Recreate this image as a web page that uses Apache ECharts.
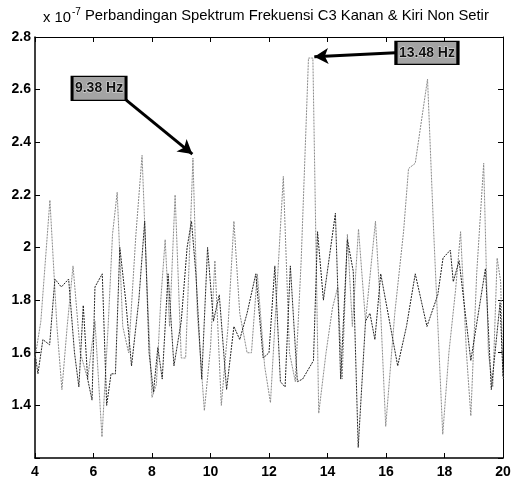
<!DOCTYPE html>
<html>
<head>
<meta charset="utf-8">
<script src="https://cdn.jsdelivr.net/npm/echarts@6/dist/echarts.min.js"></script>
<style>
  html, body { margin: 0; padding: 0; background: #fff; }
  #chart { width: 515px; height: 481px; }
</style>
</head>
<body>
<div id="chart"></div>
<script>
// frekuensi (Hz) dan magnitudo (x 1e-7)
const kiriFreq = [4.0,4.2,4.51,4.75,4.92,5.1,5.3,5.55,5.8,6.05,6.29,6.5,6.65,6.81,7.0,7.2,7.45,7.66,7.85,8.0,8.15,8.3,8.45,8.6,8.79,9.0,9.15,9.4,9.55,9.79,10.0,10.15,10.37,10.6,10.8,11.0,11.25,11.4,11.6,11.85,12.05,12.25,12.49,12.7,12.9,13.1,13.35,13.5,13.7,13.95,14.17,14.35,14.5,14.68,14.85,15.06,15.3,15.64,15.82,15.99,16.3,16.6,16.77,17.0,17.42,17.63,17.94,18.15,18.38,18.55,18.75,18.9,19.1,19.34,19.5,19.65,19.8,19.92,20.0];
const kiriVal  = [1.58,1.72,2.18,1.7,1.46,1.7,1.93,1.6,1.5,1.72,1.28,1.7,2.05,2.21,1.7,1.6,2.05,2.35,1.8,1.43,1.48,1.8,2.03,1.7,2.2,1.58,1.58,2.34,1.75,1.38,1.62,1.95,1.4,1.7,2.1,1.75,1.6,1.6,1.9,1.55,1.41,1.8,2.27,1.6,1.49,1.95,2.72,2.72,1.37,1.6,1.77,1.85,1.5,2.05,1.7,2.07,1.72,2.1,1.75,1.32,1.75,2.06,2.3,2.32,2.64,2.06,1.29,1.6,1.84,2.06,1.6,1.36,1.9,2.32,1.6,1.47,1.96,1.87,1.5];

const kananFreq = [4.0,4.1,4.27,4.5,4.68,4.9,5.15,5.35,5.5,5.65,5.8,5.95,6.05,6.3,6.45,6.6,6.75,6.9,7.1,7.3,7.55,7.75,7.9,8.05,8.2,8.35,8.55,8.75,9.0,9.2,9.35,9.5,9.7,9.9,10.1,10.3,10.55,10.8,11.0,11.25,11.55,11.8,12.0,12.2,12.39,12.55,12.73,12.97,13.15,13.52,13.66,13.86,14.27,14.45,14.68,14.88,15.05,15.3,15.45,15.62,15.82,16.4,16.7,17.0,17.4,17.77,17.95,18.2,18.3,18.5,18.9,19.4,19.6,19.9,20.0];
const kananVal  = [1.6,1.52,1.65,1.63,1.88,1.85,1.88,1.6,1.47,1.78,1.5,1.42,1.85,1.9,1.4,1.52,1.52,2.0,1.8,1.55,1.8,2.1,1.6,1.45,1.62,1.5,1.9,1.55,1.72,2.0,2.1,1.9,1.5,2.0,1.72,1.82,1.46,1.7,1.65,1.75,1.9,1.58,1.6,1.93,1.49,1.47,1.93,1.49,1.5,1.57,2.06,1.8,2.13,1.5,2.03,1.91,1.24,1.72,1.75,1.65,1.9,1.55,1.7,1.9,1.7,1.82,1.96,1.99,1.87,1.95,1.57,1.92,1.46,1.79,1.51];

const xTicks = [4, 6, 8, 10, 12, 14, 16, 18, 20];
const yTicks = [1.4, 1.6, 1.8, 2, 2.2, 2.4, 2.6, 2.8];

const chart = echarts.init(document.getElementById('chart'));

const labelFont = { fontFamily: 'Liberation Sans', fontWeight: 'bold', fontSize: 14, color: '#000' };

const option = {
  animation: false,
  backgroundColor: '#fff',
  title: {
    left: 38,
    top: 2,
    text: '{m|x 10}{s|-7} Perbandingan Spektrum Frekuensi C3 Kanan & Kiri Non Setir',
    textStyle: {
      fontFamily: 'Liberation Sans',
      fontWeight: 'normal',
      fontSize: 14.8,
      color: '#000',
      rich: {
        m: { fontFamily: 'Liberation Sans', fontWeight: 'normal', fontSize: 14.8, color: '#000', verticalAlign: 'bottom' },
        s: { fontFamily: 'Liberation Sans', fontWeight: 'normal', fontSize: 10, color: '#000', verticalAlign: 'top', padding: [0, 0, 8, 1] }
      }
    }
  },
  grid: { left: 35, right: 12, top: 37, bottom: 23 },
  xAxis: [
    {
      type: 'value', min: 4, max: 20, interval: 2,
      axisLine: { lineStyle: { color: '#000', width: 1.5 } },
      axisTick: { inside: true, length: 5, lineStyle: { color: '#000' } },
      splitLine: { show: false },
      axisLabel: Object.assign({ margin: 7, formatter: v => xTicks.includes(v) ? String(v) : '' }, labelFont)
    },
    {
      type: 'value', min: 4, max: 20, interval: 2, position: 'top',
      axisLine: { lineStyle: { color: '#000', width: 1 } },
      axisTick: { inside: true, length: 5, lineStyle: { color: '#000' } },
      axisLabel: { show: false }, splitLine: { show: false }
    }
  ],
  yAxis: [
    {
      type: 'value', min: 1.2, max: 2.8, interval: 0.2,
      axisLine: { show: true, lineStyle: { color: '#000', width: 1.5 } },
      axisTick: { show: true, inside: true, length: 5, lineStyle: { color: '#000' } },
      splitLine: { show: false },
      axisLabel: Object.assign({
        margin: 4,
        formatter: v => {
          const r = Math.round(v * 10) / 10;
          return yTicks.includes(r) ? String(r) : '';
        }
      }, labelFont)
    },
    {
      type: 'value', min: 1.2, max: 2.8, interval: 0.2, position: 'right',
      axisLine: { show: true, lineStyle: { color: '#000', width: 1 } },
      axisTick: { show: true, inside: true, length: 5, lineStyle: { color: '#000' } },
      axisLabel: { show: false }, splitLine: { show: false }
    }
  ],
  series: [
    {
      name: 'Kiri',
      type: 'line',
      data: kiriFreq.map((f, i) => [f, kiriVal[i]]),
      showSymbol: false,
      lineStyle: { color: '#8a8a8a', width: 1, type: [2, 1] },
      markLine: {
        silent: true,
        symbol: ['none', 'arrow'],
        symbolSize: [12, 14],
        label: { show: false },
        lineStyle: { color: '#000', width: 3, type: 'solid' },
        data: [
          [{ coord: [7.12, 2.56] }, { coord: [9.38, 2.355] }],
          [{ coord: [16.33, 2.74] }, { coord: [13.55, 2.725] }]
        ]
      },
      markPoint: {
        silent: true,
        symbol: 'rect',
        itemStyle: { color: '#a4a4a4', borderColor: '#000', borderWidth: 2 },
        label: {
          show: true, color: '#111', fontFamily: 'Liberation Sans', fontWeight: 'bold', fontSize: 14,
          textBorderColor: '#e0e0e0', textBorderWidth: 1
        },
        data: [
          { coord: [6.19, 2.605], symbolSize: [54, 24], value: '9.38 Hz', label: { formatter: '9.38 Hz' } },
          { coord: [17.4, 2.74], symbolSize: [62, 23], value: '13.48 Hz', label: { formatter: '13.48 Hz' } }
        ]
      }
    },
    {
      name: 'Kanan',
      type: 'line',
      data: kananFreq.map((f, i) => [f, kananVal[i]]),
      showSymbol: false,
      lineStyle: { color: '#222', width: 1, type: [2, 1] }
    }
  ]
};

chart.setOption(option);
window.addEventListener('resize', () => {
  chart.resize();
});
</script>
</body>
</html>
